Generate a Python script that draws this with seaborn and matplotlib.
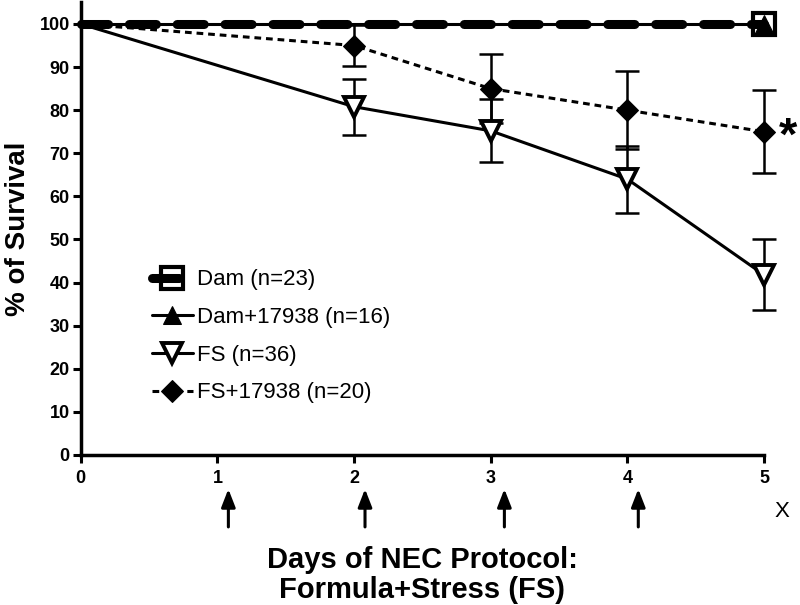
import numpy as np
import pandas as pd
import matplotlib
matplotlib.use("Agg")
import matplotlib.pyplot as plt
import seaborn as sns

# dados
dias = [0, 1, 2, 3, 4, 5]
dam_dias = [0, 5]
dam = [100, 100]
dam_17938 = [100, 100]
fs_dias = [0, 2, 3, 4, 5]
fs = [100, 80.8, 75.2, 64.0, 41.8]
fs_err = [0, 6.5, 7.3, 7.8, 8.2]
fs17_dias = [0, 2, 3, 4, 5]
fs_17938 = [100, 95, 85, 80, 75]
fs17_err = [0, 4.8, 8.0, 9.0, 9.6]
setas = [1.08, 2.08, 3.1, 4.08]

labels = ["Dam (n=23)", "Dam+17938 (n=16)", "FS (n=36)", "FS+17938 (n=20)"]

df_dam = pd.DataFrame({"dia": dam_dias, "sobrev": dam})
df_dam17 = pd.DataFrame({"dia": dam_dias, "sobrev": dam_17938})
df_fs = pd.DataFrame({"dia": fs_dias, "sobrev": fs, "err": fs_err})
df_fs17 = pd.DataFrame({"dia": fs17_dias, "sobrev": fs_17938, "err": fs17_err})

sns.set_theme(style="ticks")
plt.rcParams["font.family"] = ["Liberation Sans", "DejaVu Sans"]
plt.rcParams["text.color"] = "black"
plt.rcParams["axes.labelcolor"] = "black"
plt.rcParams["xtick.color"] = "black"
plt.rcParams["ytick.color"] = "black"

fig = plt.figure(figsize=(8, 6.05), dpi=100)
ax = fig.add_axes([0.101, 0.248, 0.854, 0.748])

# barras de erro
for d in [df_fs, df_fs17]:
    eb = ax.errorbar(d["dia"][1:], d["sobrev"][1:], yerr=d["err"][1:], fmt="none",
                     ecolor="black", elinewidth=1.8, capsize=8.5, capthick=1.8, zorder=2)
    for art in eb.lines[1] + eb.lines[2]:
        art.set_clip_on(False)

sns.lineplot(data=df_fs, x="dia", y="sobrev", ax=ax, color="black", lw=2.2,
             marker="v", markersize=15, markerfacecolor="white", markeredgecolor="black",
             markeredgewidth=2.8, markevery=[1, 2, 3, 4], label=labels[2], zorder=3, clip_on=False)
sns.lineplot(data=df_fs17, x="dia", y="sobrev", ax=ax, color="black", lw=2.2,
             linestyle=(0, (2.2, 1.6)), marker="D", markersize=11, markerfacecolor="black",
             markeredgecolor="black", markevery=[1, 2, 3, 4], label=labels[3], zorder=3,
             clip_on=False)
sns.lineplot(data=df_dam17, x="dia", y="sobrev", ax=ax, color="black", lw=2.2,
             marker="^", markersize=13, markerfacecolor="black", markeredgecolor="black",
             markevery=[1], label=labels[1], zorder=4, clip_on=False)
sns.lineplot(data=df_dam, x="dia", y="sobrev", ax=ax, color="black", lw=6.5,
             linestyle=(0, (3, 2.3)), dash_capstyle="round", marker="s", markersize=16,
             markerfacecolor="none", markeredgecolor="black", markeredgewidth=3,
             markevery=[1], label=labels[0], zorder=5, clip_on=False)

ax.set_xlim(0, 5)
ax.set_ylim(0, 105)
ax.set_xticks(dias)
ax.set_yticks(np.arange(0, 101, 10))
ax.tick_params(axis="both", length=6, width=2.2, labelsize=13, pad=2)
ax.tick_params(axis="x", pad=5)
for t in ax.get_xticklabels() + ax.get_yticklabels():
    t.set_fontweight("bold")
for s in ["top", "right"]:
    ax.spines[s].set_visible(False)
for s in ["left", "bottom"]:
    ax.spines[s].set_linewidth(2.5)
    ax.spines[s].set_color("black")
ax.spines["bottom"].set_zorder(6)

ax.set_xlabel("Days of NEC Protocol:\nFormula+Stress (FS)", fontsize=21, fontweight="bold",
              labelpad=42, linespacing=1.1)
ax.set_ylabel("% of Survival", fontsize=20, fontweight="bold", labelpad=6)

# setas dos dias de protocolo
for xa in setas:
    ax.annotate("", xy=(xa, -7.9), xytext=(xa, -16.7),
                arrowprops=dict(arrowstyle="-|>,head_length=0.9,head_width=0.35", color="black",
                                lw=2.2, shrinkA=0, shrinkB=0), annotation_clip=False)
ax.text(5.13, -13.2, "X", fontsize=16, ha="center", va="center", clip_on=False)
ax.text(5.11, 73.5, "*", fontsize=34, fontweight="bold", ha="left", va="center", clip_on=False)

h, l = ax.get_legend_handles_labels()
ordem = [l.index(x) for x in labels]
ax.legend([h[i] for i in ordem], labels, loc="upper left", bbox_to_anchor=(0.104, 0.41),
          frameon=False, fontsize=16, handlelength=1.85, handletextpad=0.2, labelspacing=0.75,
          borderaxespad=0, borderpad=0)

fig.savefig("out.png", dpi=100)
